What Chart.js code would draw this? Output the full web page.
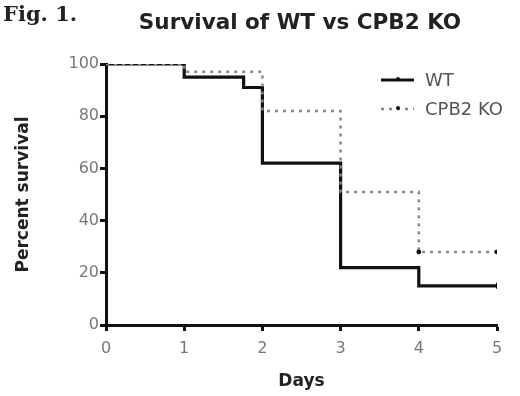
<!DOCTYPE html>
<html>
<head>
<meta charset="utf-8">
<script src="https://cdn.jsdelivr.net/npm/chart.js@4"></script>
<style>
  body { margin: 0; background: #fff; }
  #wrap { position: relative; width: 520px; height: 396px; }
  #fig { position: absolute; left: 3px; top: 1px; font: bold 21px "DejaVu Serif", serif; color: #222; }
  #ttl { position: absolute; left: 0; width: 600px; top: 9px; text-align: center; font: bold 21.5px "DejaVu Sans", sans-serif; color: #222; }
</style>
</head>
<body>
<div id="wrap">
  <canvas id="survChart" width="520" height="396"></canvas>
  <div id="fig">Fig. 1.</div>
  <div id="ttl">Survival of WT vs CPB2 KO</div>
</div>
<script>
// dias y porcentaje de supervivencia
const wtDays = [0, 1, 1.76, 2, 3, 4, 5];
const wtSurv = [100, 95, 91, 62, 22, 15, 15];
const koDays = [0, 1, 2, 3, 4, 5];
const koSurv = [100, 97, 82, 51, 28, 28];
const xTicks = [0, 1, 2, 3, 4, 5];
const yTicks = [0, 20, 40, 60, 80, 100];

const toPts = (xs, ys) => xs.map((x, i) => ({ x: x, y: ys[i] }));
const FONT = '"DejaVu Sans", sans-serif';

// leyenda dibujada dentro del area del grafico
const inlineLegend = {
    id: 'inlineLegend',
    afterDraw(chart) {
        const ctx = chart.ctx;
        const rows = [
            { label: 'WT', y: 80, color: '#111', width: 3, dash: [] },
            { label: 'CPB2 KO', y: 109, color: '#888', width: 2.5, dash: [3, 5] }
        ];
        ctx.save();
        rows.forEach(r => {
            ctx.strokeStyle = r.color;
            ctx.lineWidth = r.width;
            ctx.setLineDash(r.dash);
            ctx.beginPath();
            ctx.moveTo(381, r.y);
            ctx.lineTo(414, r.y);
            ctx.stroke();
            ctx.setLineDash([]);
            ctx.fillStyle = '#111';
            ctx.beginPath();
            ctx.arc(398, r.y - 1, 2, 0, Math.PI * 2);
            ctx.fill();
            ctx.fillStyle = '#555';
            ctx.font = '18px ' + FONT;
            ctx.textBaseline = 'middle';
            ctx.fillText(r.label, 425, r.y + 1);
        });
        ctx.restore();
    }
};

new Chart(document.getElementById('survChart'), {
    type: 'line',
    data: {
        datasets: [{
            label: 'CPB2 KO',
            data: toPts(koDays, koSurv),
            stepped: 'before',
            borderColor: '#888',
            borderWidth: 2.5,
            borderDash: [3, 5],
            pointRadius: koDays.map(d => d >= 4 ? 2.4 : 0),
            pointBackgroundColor: '#111',
            pointBorderWidth: 0
        }, {
            label: 'WT',
            data: toPts(wtDays, wtSurv),
            stepped: 'before',
            borderColor: '#111',
            borderWidth: 3.2,
            pointRadius: wtDays.map(d => d === 5 ? 3 : 0),
            pointStyle: 'line',
            rotation: 90,
            pointBorderColor: '#111',
            pointBorderWidth: 2
        }]
    },
    options: {
        responsive: false,
        animation: false,
        layout: { padding: { top: 64, right: 23, left: 0, bottom: 0 } },
        plugins: { legend: { display: false }, tooltip: { enabled: false } },
        scales: {
            x: {
                type: 'linear',
                min: 0, max: 5,
                afterBuildTicks: s => { s.ticks = xTicks.map(v => ({ value: v })); },
                afterFit: s => { s.height = 71; },
                border: { color: '#111', width: 3 },
                grid: { drawOnChartArea: false, color: '#111', tickLength: 6, tickWidth: 3 },
                ticks: { color: '#777', font: { size: 16, family: FONT }, padding: 8 },
                title: { display: true, text: 'Days', color: '#222', font: { size: 17, weight: 'bold', family: FONT }, padding: { top: 4, bottom: 4 } }
            },
            y: {
                min: 0, max: 100,
                afterBuildTicks: s => { s.ticks = yTicks.map(v => ({ value: v })); },
                afterFit: s => { s.width = 106; },
                border: { color: '#111', width: 3 },
                grid: { drawOnChartArea: false, color: '#111', tickLength: 6, tickWidth: 3 },
                ticks: { color: '#777', font: { size: 16, family: FONT }, padding: 1 },
                title: { display: true, text: 'Percent survival', color: '#222', font: { size: 17, weight: 'bold', family: FONT }, padding: { top: 13, bottom: 0 } }
            }
        }
    },
    plugins: [inlineLegend]
});
</script>
</body>
</html>
